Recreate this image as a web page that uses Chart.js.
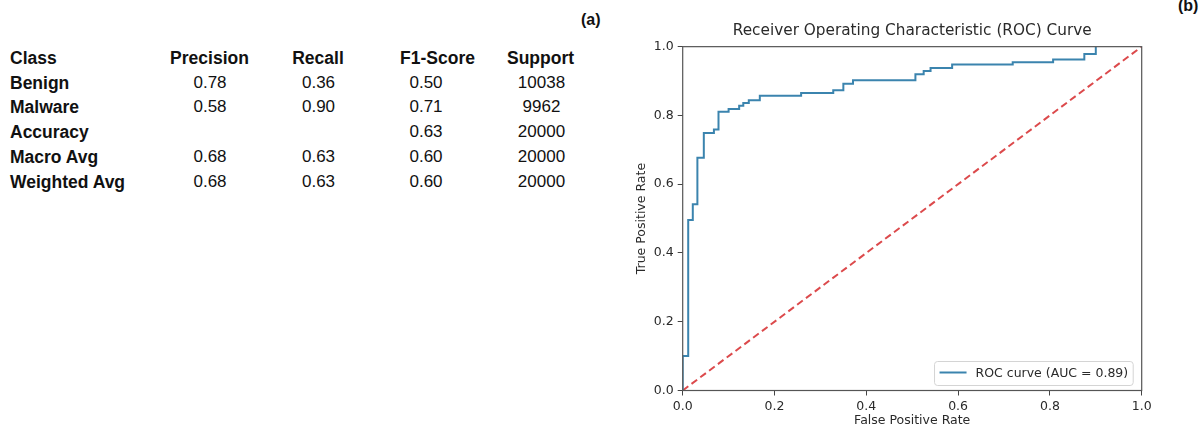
<!DOCTYPE html>
<html>
<head>
<meta charset="utf-8">
<script src="https://cdn.jsdelivr.net/npm/chart.js@4.4.1/dist/chart.umd.min.js"></script>
<style>
  html, body { margin: 0; padding: 0; background: #fff; }
  body { width: 1202px; height: 430px; position: relative; overflow: hidden; font-family: 'Liberation Sans', Arial, sans-serif; color: #111; }
  .cell { position: absolute; line-height: 20px; white-space: nowrap; font-size: 17px; }
  .bold { font-weight: bold; font-size: 17.5px; }
  .mid { transform: translateX(-50%); }
  .tag { position: absolute; font-weight: bold; font-size: 16px; line-height: 18px; }
  #rocBox { position: absolute; left: 600px; top: 0; width: 602px; height: 430px; }
</style>
</head>
<body>
<div id="report"></div>
<div class="tag" style="left:581px; top:11px;">(a)</div>
<div class="tag" style="left:1178px; top:-3px;">(b)</div>
<div id="rocBox"><canvas id="rocChart" width="602" height="430"></canvas></div>
<script>
// classification report (a)
const headers = ['Class', 'Precision', 'Recall', 'F1-Score', 'Support']
const classes = ['Benign', 'Malware', 'Accuracy', 'Macro Avg', 'Weighted Avg']
const precision = ['0.78', '0.58', '', '0.68', '0.68']
const recall = ['0.36', '0.90', '', '0.63', '0.63']
const f1Score = ['0.50', '0.71', '0.63', '0.60', '0.60']
const support = ['10038', '9962', '20000', '20000', '20000']

// ROC curve (b), corner points
const rocFpr = [0, 0, 0.012, 0.022, 0.032, 0.046, 0.068, 0.078, 0.100, 0.123, 0.132, 0.144, 0.168, 0.258, 0.328, 0.350, 0.371, 0.507, 0.525, 0.540, 0.587, 0.719, 0.807, 0.875, 0.900]
const rocTpr = [0, 0.100, 0.496, 0.542, 0.677, 0.749, 0.759, 0.811, 0.819, 0.828, 0.836, 0.844, 0.857, 0.865, 0.873, 0.892, 0.902, 0.920, 0.929, 0.938, 0.948, 0.955, 0.963, 0.979, 1.000]
const chanceFpr = [0, 1]
const chanceTpr = [0, 1]
const axisTicks = [0, 0.2, 0.4, 0.6, 0.8, 1.0]
const axisTickLabels = ['0.0', '0.2', '0.4', '0.6', '0.8', '1.0']

function buildReport() {
    const box = document.getElementById('report')
    const firstRow = 48
    const rowStep = 24.7
    const headCenters = [null, 209.5, 318, 437.5, 540.5]
    const valueCenters = [null, 210, 318.5, 426, 541.5]
    const columns = [classes, precision, recall, f1Score, support]

    headers.forEach((h, c) => {
        const d = document.createElement('div')
        d.className = 'cell bold' + (c > 0 ? ' mid' : '')
        d.style.top = firstRow + 'px'
        d.style.left = (c == 0 ? 10 : headCenters[c]) + 'px'
        d.textContent = h
        box.appendChild(d)
    })

    for (let r = 0; r < classes.length; r++) {
        for (let c = 0; c < columns.length; c++) {
            const txt = columns[c][r]
            if (txt === '') {
                continue
            }
            const d = document.createElement('div')
            d.className = 'cell' + (c == 0 ? ' bold' : ' mid')
            d.style.top = (firstRow + rowStep * (r + 1)) + 'px'
            d.style.left = (c == 0 ? 10 : valueCenters[c]) + 'px'
            d.textContent = txt
            box.appendChild(d)
        }
    }
}

const tickFont = { family: 'DejaVu Sans', size: 12.5 }
const inkColor = '#2a2a2a'

// spines on all four sides, drawn over the lines like matplotlib
const frame = {
    id: 'frame',
    afterDatasetsDraw(chart) {
        const a = chart.chartArea
        const ctx = chart.ctx
        ctx.save()
        ctx.strokeStyle = '#555'
        ctx.lineWidth = 1.2
        ctx.strokeRect(a.left, a.top, a.right - a.left, a.bottom - a.top)
        ctx.restore()
    }
}

// legend box in the lower right corner of the plot
const cornerLegend = {
    id: 'cornerLegend',
    afterDraw(chart) {
        const ds = chart.data.datasets[0]
        const a = chart.chartArea
        const ctx = chart.ctx
        ctx.save()
        ctx.font = '12.5px "DejaVu Sans"'
        const tw = ctx.measureText(ds.label).width
        const w = 5 + 27 + 9 + tw + 5
        const h = 24
        const x = a.right - 8.5 - w
        const y = a.bottom - 5 - h
        ctx.beginPath()
        ctx.roundRect(x, y, w, h, 3)
        ctx.fillStyle = 'rgba(255,255,255,0.85)'
        ctx.fill()
        ctx.strokeStyle = '#d4d4d4'
        ctx.lineWidth = 1
        ctx.stroke()
        const cy = y + h / 2 - 1
        ctx.beginPath()
        ctx.moveTo(x + 5, cy)
        ctx.lineTo(x + 32, cy)
        ctx.strokeStyle = ds.borderColor
        ctx.lineWidth = 2
        ctx.stroke()
        ctx.fillStyle = inkColor
        ctx.textBaseline = 'middle'
        ctx.fillText(ds.label, x + 41, cy + 1)
        ctx.restore()
    }
}

function rocChart() {
    const ctx = document.getElementById('rocChart')
    new Chart(ctx, {
        type: 'scatter',
        data: {
            datasets: [{
                label: 'ROC curve (AUC = 0.89)',
                data: rocFpr.map((x, i) => ({ x: x, y: rocTpr[i] })),
                showLine: true,
                stepped: 'before',
                borderColor: '#3b84ae',
                borderWidth: 2,
                pointRadius: 0,
                fill: false
            }, {
                label: 'chance',
                data: chanceFpr.map((x, i) => ({ x: x, y: chanceTpr[i] })),
                showLine: true,
                borderColor: '#dc4a4c',
                borderDash: [7, 4],
                borderWidth: 2,
                pointRadius: 0,
                fill: false
            }]
        },
        options: {
            responsive: false,
            animation: false,
            devicePixelRatio: 1,
            layout: {
                padding: { left: 30, right: 60.3, top: 14, bottom: 0 }
            },
            plugins: {
                legend: { display: false },
                tooltip: { enabled: false },
                title: {
                    display: true,
                    fullSize: false,
                    text: 'Receiver Operating Characteristic (ROC) Curve',
                    color: inkColor,
                    font: { family: 'DejaVu Sans', size: 15.3, weight: 'normal' },
                    padding: { top: 8, bottom: 6.3 }
                }
            },
            scales: {
                x: {
                    type: 'linear',
                    min: 0,
                    max: 1,
                    afterBuildTicks: s => { s.ticks = axisTicks.map(v => ({ value: v })) },
                    afterFit: s => { s.height = 39.5 },
                    ticks: {
                        callback: (v, i) => axisTickLabels[i],
                        font: tickFont,
                        color: inkColor,
                        padding: 4,
                        maxRotation: 0,
                        autoSkip: false
                    },
                    grid: { drawOnChartArea: false, drawTicks: true, tickLength: 5, color: '#444' },
                    border: { display: false },
                    title: { display: true, text: 'False Positive Rate', font: tickFont, color: inkColor, padding: { top: 4, bottom: 2 } }
                },
                y: {
                    type: 'linear',
                    min: 0,
                    max: 1,
                    afterBuildTicks: s => { s.ticks = axisTicks.map(v => ({ value: v })) },
                    afterFit: s => { s.width = 52.7 },
                    ticks: {
                        callback: (v, i) => axisTickLabels[i],
                        font: tickFont,
                        color: inkColor,
                        padding: 4,
                        autoSkip: false
                    },
                    grid: { drawOnChartArea: false, drawTicks: true, tickLength: 5, color: '#444' },
                    border: { display: false },
                    title: { display: true, text: 'True Positive Rate', font: tickFont, color: inkColor, padding: { top: 4, bottom: 4 } }
                }
            }
        },
        plugins: [frame, cornerLegend]
    })
}

buildReport()
rocChart()
</script>
</body>
</html>
